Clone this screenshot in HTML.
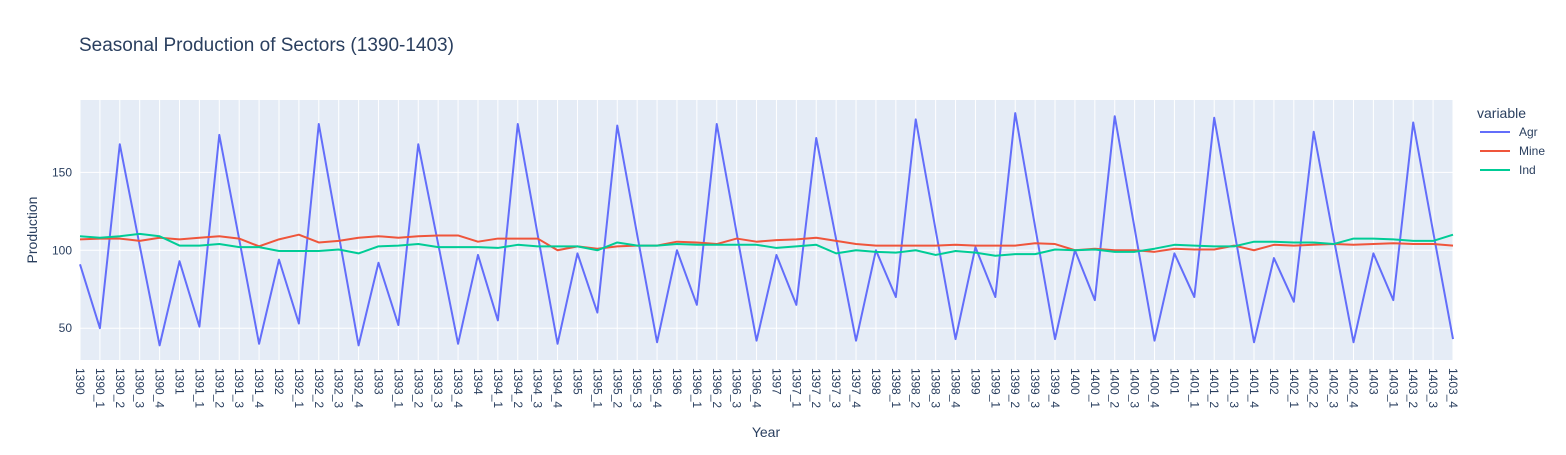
<!DOCTYPE html>
<html><head><meta charset="utf-8"><style>
body{margin:0;background:#fff;font-family:"Liberation Sans",Arial,sans-serif;}
svg text{font-family:"Liberation Sans",Arial,sans-serif;fill:#2a3f5f;}
</style></head><body>
<svg id="chart" width="1566" height="450" xmlns="http://www.w3.org/2000/svg">
<rect width="1566" height="450" fill="#fff"/>
<text x="79" y="51" font-size="19">Seasonal Production of Sectors (1390-1403)</text>
<rect x="80" y="100" width="1373" height="260" fill="#e5ecf6"/>
<g id="grid"></g><g id="series"></g><g id="xticks"></g><g id="yticks"></g>
<text x="766" y="437" font-size="14" text-anchor="middle">Year</text>
<text transform="translate(37,230) rotate(-90)" font-size="14" text-anchor="middle">Production</text>
<g>
<text x="1477" y="118" font-size="14">variable</text>
<g><line x1="1480" y1="132" x2="1510" y2="132" stroke="#636efa" stroke-width="2"/><text x="1519" y="136" font-size="12">Agr</text></g>
<g><line x1="1480" y1="151" x2="1510" y2="151" stroke="#ef553b" stroke-width="2"/><text x="1519" y="155" font-size="12">Mine</text></g>
<g><line x1="1480" y1="170" x2="1510" y2="170" stroke="#00cc96" stroke-width="2"/><text x="1519" y="174" font-size="12">Ind</text></g>
</g>
</svg>
<script>
const years=[1390,1391,1392,1393,1394,1395,1396,1397,1398,1399,1400,1401,1402,1403];
const agr=[91,50,168,103,39, 93,51,174,107,40, 94,53,181,110,39, 92,52,168,104,40, 97,55,181,110,40, 98,60,180,110,41, 100,65,181,111,42, 97,65,172,107,42, 100,70,184,113,43, 102,70,188,115,43, 100,68,186,114,42, 98,70,185,113,41, 95,67,176,108,41, 98,68,182,112,43];
const mine=[107,107.5,107.5,106,108, 107,108,109,107.5,102.5, 107,110,105,106,108, 109,108,109,109.5,109.5, 105.5,107.5,107.5,107.5,100, 102.5,101,102.5,103,103, 105.5,105,104,107.5,105.5, 106.5,107,108,106,104, 103,103,103,103,103.5, 103,103,103,104.5,104, 100,101,100,100,99, 101,100.5,100.5,103,100, 103.5,103,103.5,104,103.5, 104,104.5,104,104,103];
const ind=[109,108,109,110.5,109, 103,103,104,102,102, 99.5,99.5,99.5,100.5,98, 102.5,103,104,102,102, 102,101.5,103.5,102.5,102.5, 102.5,100,105,103,103, 104,103.5,103.5,103.5,103.5, 101.5,102.5,103.5,98,100, 99,98.5,100,97,99.5, 98.5,96.5,97.5,97.5,100.5, 100,100.5,99,99,101, 103.5,103,102.5,102.5,105.5, 105.5,105,105,104,107.5, 107.5,107,106,106,110];
const yTicks=[50,100,150];
const categories=[];
years.forEach(y=>{categories.push(String(y));for(let q=1;q<=4;q++)categories.push(y+'_'+q);});
const NS='http://www.w3.org/2000/svg';
const L=80,R=1453,T=100,B=360,yMin=29.6,yMax=196.4;
const xs=i=>L+(R-L)*i/(categories.length-1);
const ys=v=>B-(v-yMin)/(yMax-yMin)*(B-T);
function mk(tag,attrs,parent){const e=document.createElementNS(NS,tag);for(const k in attrs)e.setAttribute(k,attrs[k]);document.getElementById(parent).appendChild(e);return e;}
categories.forEach((c,i)=>{
  const g=mk('line',{x1:xs(i),x2:xs(i),y1:T,y2:B,stroke:'#fff','stroke-width':1},'grid');
  
  
  const t=mk('text',{transform:`translate(${xs(i)-4},368) rotate(90)`,'font-size':12},'xticks');
  t.textContent=c;
  
  
});
yTicks.forEach(v=>{
  const g=mk('line',{x1:L,x2:R,y1:ys(v),y2:ys(v),stroke:'#fff','stroke-width':1},'grid');
  
  
  const t=mk('text',{x:72,y:ys(v)+4,'font-size':12,'text-anchor':'end'},'yticks');
  t.textContent=v;
  
  
});
[[agr,'#636efa','line-agr'],[mine,'#ef553b','line-mine'],[ind,'#00cc96','line-ind']].forEach(([d,col,name])=>{
  const p=mk('polyline',{points:d.map((v,i)=>xs(i)+','+ys(v)).join(' '),fill:'none',stroke:col,'stroke-width':2,'stroke-linejoin':'round'},'series');
  
  
});
</script>
</body></html>
